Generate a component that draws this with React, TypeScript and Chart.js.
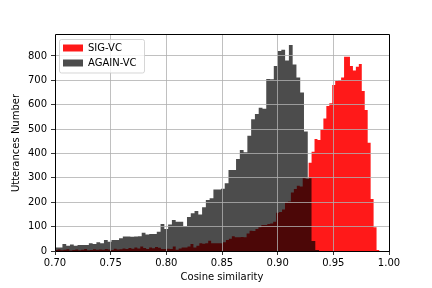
import React, { useEffect, useRef } from "react";
import { Chart, registerables } from "chart.js";

Chart.register(...registerables);

// ---- data ----
const seriesLabels = ["SIG-VC", "AGAIN-VC"];
const xAxisTitle = "Cosine similarity";
const yAxisTitle = "Utterances Number";
const xTickStep = 0.05;
const yTickStep = 100;
const xMin = 0.7;
const xMax = 1.0;
const yMax = 886;

// histogram bins (left edge of first bin, bin width)
const sigFirstEdge = 0.69964;
const sigBinWidth = 0.002653;
const sigCounts = [
  4, 6, 3, 5, 7, 2, 4, 6, 3, 5, 8, 3, 4, 7, 5, 6,
  5, 8, 6, 4, 9, 6, 7, 10, 8, 12,
  9, 14, 10, 18, 12, 8, 14, 11, 16, 13,
  8, 8, 9, 8, 18, 5,
  10, 14, 14, 18,
  29, 14, 22, 32, 30, 32, 42, 32, 32, 32, 32, 36, 45, 50, 60, 56,
  56, 57, 56, 72, 83, 82, 90, 97, 107, 107, 111, 113, 120, 157, 160, 170, 200, 203, 240, 254, 268, 265, 298, 295,
  362, 407, 459, 455, 497, 544, 595, 606, 681, 698, 700, 712, 797, 797, 759, 740, 756, 767, 656, 578, 444, 213, 97, 4,
];

const againFirstEdge = 0.6999;
const againBinWidth = 0.00339;
const againCounts = [
  14, 14, 29, 22, 27, 22, 25, 25, 25, 32,
  29, 36, 32, 45, 38, 45, 45, 52, 59, 59,
  58, 59, 60, 75, 68, 70, 70, 79, 111, 90,
  109, 127, 120, 120, 103, 139, 155, 164, 150, 179,
  209, 216, 252, 252, 255, 278, 332, 332, 377, 414,
  405, 473, 540, 562, 588, 583, 706, 704, 759, 820,
  825, 781, 845, 765, 712, 650, 490, 298, 41, 4,
];

// ---- helpers ----
function histPoints(first: number, width: number, counts: number[]) {
  const pts = counts.map((c, i) => ({ x: first + i * width, y: c }));
  pts.push({ x: first + counts.length * width, y: 0 });
  return pts;
}

const FONT = { family: "'DejaVu Sans', sans-serif", size: 10 };

function drawLegendOnTop(chart: any) {
  const lg = chart.legend;
  const a = chart.chartArea;
  if (!lg || !a) return;
  const ctx: CanvasRenderingContext2D = chart.ctx;
  ctx.save();
  ctx.beginPath();
  const fx = a.left + 4.5;
  const fy = a.top + 4.5;
  const fw = 85;
  const fh = 33.5;
  if ((ctx as any).roundRect) (ctx as any).roundRect(fx, fy, fw, fh, 2);
  else ctx.rect(fx, fy, fw, fh);
  ctx.fillStyle = "rgba(255,255,255,0.8)";
  ctx.fill();
  ctx.strokeStyle = "rgba(204,204,204,0.8)";
  ctx.lineWidth = 1;
  ctx.stroke();
  ctx.restore();
  lg.left = a.left + 3;
  lg.top = a.top + 3;
  lg.right = a.right;
  lg.bottom = a.bottom;
  lg.width = lg.right - lg.left;
  lg.height = lg.bottom - lg.top;
  lg.draw();
}

const framePlugin = {
  id: "mplFrame",
  beforeLayout(chart: any) {
    const lg = chart.legend;
    if (lg) {
      lg._layers = () => [{ z: 5, draw: () => drawLegendOnTop(chart) }];
    }
  },
  afterDraw(chart: any) {
    const { ctx, chartArea: a } = chart;
    ctx.save();
    ctx.strokeStyle = "#000";
    ctx.lineWidth = 1;
    const l = Math.round(a.left) + 0.5;
    const r = Math.round(a.right) + 0.5;
    const t = Math.round(a.top) - 0.5;
    const b = Math.round(a.bottom) + 0.5;
    ctx.beginPath();
    ctx.moveTo(l, t);
    ctx.lineTo(r, t);
    ctx.lineTo(r, b);
    ctx.lineTo(l, b);
    ctx.closePath();
    ctx.stroke();
    ctx.restore();
  },
};

export default function App() {
  const ref = useRef<HTMLCanvasElement>(null);

  useEffect(() => {
    if (!ref.current) return;
    Chart.defaults.font.family = FONT.family;
    Chart.defaults.font.size = FONT.size;
    Chart.defaults.color = "#000";

    const gridOpts = {
      color: "#b0b0b0",
      lineWidth: 0.8,
      z: 1,
      tickColor: "#000",
      tickLength: 4,
      tickWidth: 0.8,
    };

    const chart = new Chart(ref.current, {
      type: "line",
      data: {
        datasets: [
          {
            label: seriesLabels[0],
            data: histPoints(sigFirstEdge, sigBinWidth, sigCounts),
            stepped: "before",
            fill: "origin",
            backgroundColor: "rgba(255,0,0,0.9)",
            borderColor: "rgba(0,0,0,0)",
            borderWidth: 0,
            pointRadius: 0,
            pointHoverRadius: 0,
            order: 1,
          },
          {
            label: seriesLabels[1],
            data: histPoints(againFirstEdge, againBinWidth, againCounts),
            stepped: "before",
            fill: "origin",
            backgroundColor: "rgba(0,0,0,0.7)",
            borderColor: "rgba(0,0,0,0)",
            borderWidth: 0,
            pointRadius: 0,
            pointHoverRadius: 0,
            order: 0,
          },
        ],
      } as any,
      options: {
        responsive: false,
        maintainAspectRatio: false,
        animation: false,
        events: [],
        layout: { padding: { left: 0, right: 43, top: 35, bottom: 0 } },
        plugins: {
          legend: {
            position: "chartArea",
            align: "start",
            labels: {
              boxWidth: 20,
              boxHeight: 7,
              padding: 5,
              color: "#000",
              font: FONT,
              sort: (a: any, b: any) => a.datasetIndex - b.datasetIndex,
            },
          },
          tooltip: { enabled: false },
        },
        scales: {
          x: {
            type: "linear",
            min: xMin,
            max: xMax,
            afterFit: (s: any) => {
              s.height = 37;
            },
            grid: gridOpts,
            border: { display: false },
            ticks: {
              stepSize: xTickStep,
              includeBounds: false,
              padding: 2,
              color: "#000",
              maxRotation: 0,
              autoSkip: false,
              font: FONT,
              callback: (v: any) => Number(v).toFixed(2),
            },
            title: {
              display: true,
              text: xAxisTitle,
              color: "#000",
              font: FONT,
              padding: { top: 0, bottom: 5 },
            },
          },
          y: {
            type: "linear",
            min: 0,
            max: yMax,
            stacked: false,
            afterFit: (s: any) => {
              s.width = 55;
            },
            grid: gridOpts,
            border: { display: false },
            ticks: {
              stepSize: yTickStep,
              includeBounds: false,
              padding: 4,
              color: "#000",
              font: FONT,
            },
            title: {
              display: true,
              text: yAxisTitle,
              color: "#000",
              font: FONT,
              padding: { top: 10, bottom: 0 },
            },
          },
        },
      } as any,
      plugins: [framePlugin],
    });
    return () => chart.destroy();
  }, []);

  return (
    <div
      style={{
        position: "fixed",
        left: 0,
        top: 0,
        width: 432,
        height: 288,
        background: "#fff",
      }}
    >
      <canvas
        ref={ref}
        width={432}
        height={288}
        style={{ display: "block", width: 432, height: 288 }}
      />
    </div>
  );
}
